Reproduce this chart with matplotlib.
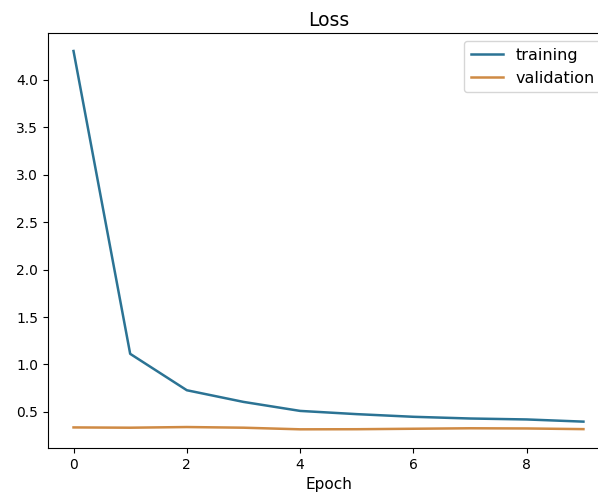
import matplotlib
matplotlib.use("Agg")
import matplotlib.pyplot as plt

# ---------- Data ----------
epochs = [0, 1, 2, 3, 4, 5, 6, 7, 8, 9]
trainingLoss = [4.305, 1.112, 0.728, 0.605, 0.51, 0.476, 0.448, 0.43, 0.42, 0.397]
validationLoss = [0.336, 0.333, 0.34, 0.333, 0.316, 0.317, 0.322, 0.327, 0.325, 0.318]

# ---------- Plot ----------
fig = plt.figure(figsize=(5.98, 4.98), dpi=100)
# axes runs a little past the right edge, like the cropped screenshot
ax = fig.add_axes([0.0803, 0.1004, 0.938, 0.833])

ax.plot(epochs, trainingLoss, color="#2b7394", linewidth=1.8, label="training")
ax.plot(epochs, validationLoss, color="#cf8a44", linewidth=1.8, label="validation")

ax.set_title("Loss", fontsize=13.5, pad=5)
ax.set_xlabel("Epoch", fontsize=11)
ax.set_xlim(-0.45, 9.45)
ax.set_ylim(0.119, 4.493)
ax.set_xticks([0, 2, 4, 6, 8])
ax.set_yticks([0.5, 1.0, 1.5, 2.0, 2.5, 3.0, 3.5, 4.0])
ax.tick_params(labelsize=10)
ax.spines["right"].set_visible(False)
ax.legend(loc="upper right", fontsize=11.5)

fig.savefig("out.png", dpi=100)
